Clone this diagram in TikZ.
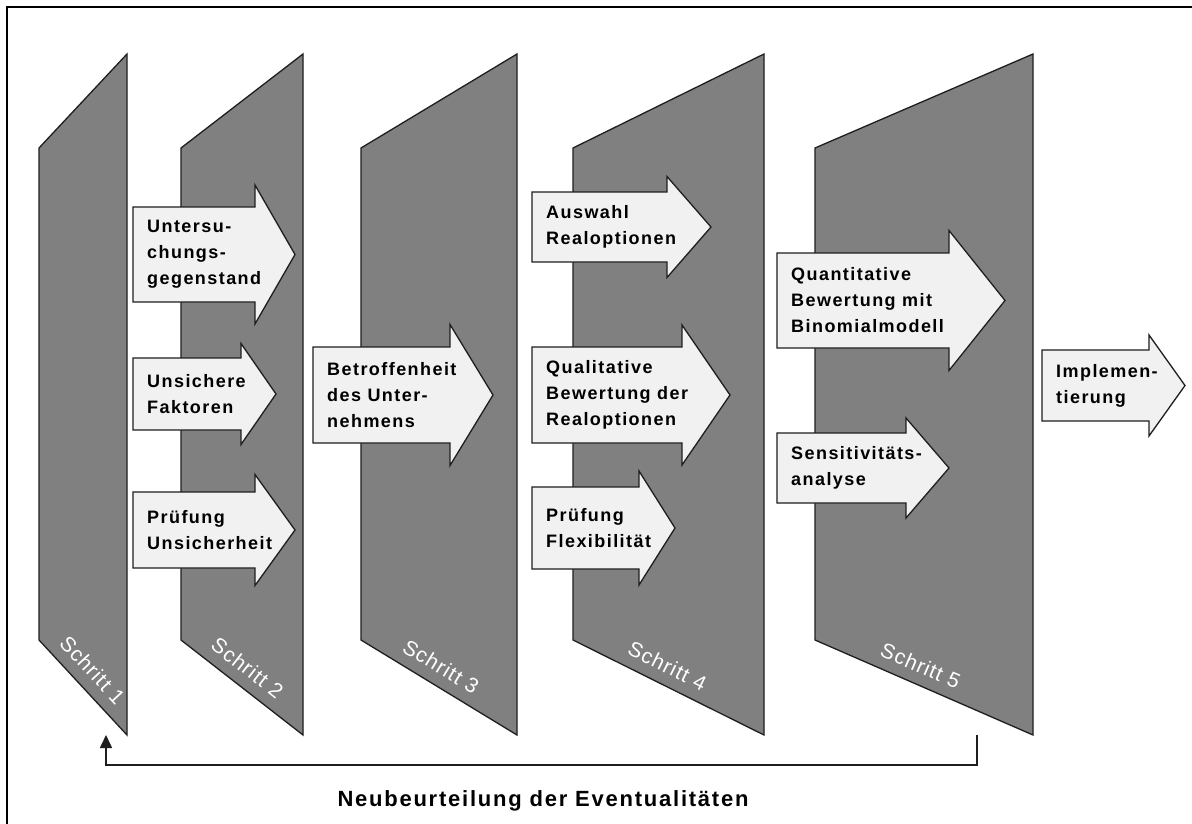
\documentclass[tikz,border=0pt]{standalone}
\usepackage{fontspec}
\setmainfont{Liberation Sans}
\newfontfamily\boxfont{Liberation Sans}[LetterSpace=8]
\newfontfamily\stepfont{Liberation Sans}[LetterSpace=5]
\usetikzlibrary{arrows.meta}

\definecolor{panelgray}{RGB}{128,128,128}
\definecolor{arrowfill}{RGB}{240,241,240}
\definecolor{edgecol}{RGB}{30,30,30}

% one slanted step panel: name, left x, right x
\newcommand\steppanel[3]{%
  \coordinate (#1-tl) at (#2,148);
  \coordinate (#1-tr) at (#3,54);
  \coordinate (#1-br) at (#3,735);
  \coordinate (#1-bl) at (#2,640);
  \draw[panel] (#1-tl) -- (#1-tr) -- (#1-br) -- (#1-bl) -- cycle;
}

% block arrow with text: name, body left x, centre y, half body height,
% head back x, half head height, tip x, text
\newcommand\blockarrow[8]{%
  \draw[procarrow] (#2,{#3-#4}) -- (#5,{#3-#4}) -- (#5,{#3-#6}) -- (#7,#3)
    -- (#5,{#3+#6}) -- (#5,{#3+#4}) -- (#2,{#3+#4}) -- cycle;
  \node[arrowtext] (#1) at ({#2+14},#3) {#8};
}

\begin{document}
\begin{tikzpicture}[x=1pt,y=-1pt,
  panel/.style={fill=panelgray, draw=edgecol, line width=1.3pt, line join=miter},
  procarrow/.style={fill=arrowfill, draw=edgecol, line width=1.3pt, line join=miter},
  arrowtext/.style={anchor=west, align=left, inner sep=0pt, text=black,
    font=\boxfont\bfseries\fontsize{18}{26}\selectfont},
  steplabel/.style={font=\stepfont\fontsize{21}{24}\selectfont, text=white,
    sloped, above, pos=0.45, inner sep=11pt},
  feedback/.style={draw=edgecol, line width=1.6pt, -{Triangle[length=13pt,width=12pt]}},
  titletext/.style={font=\boxfont\bfseries\fontsize{22}{26}\selectfont, text=black},
  frameline/.style={draw=black, line width=2.2pt}]

\useasboundingbox (0,0) rectangle (1192,823);
\fill[white] (0,0) rectangle (1192,823);

% outer frame
\draw[frameline] (7,840) -- (7,7) -- (1210,7);

% step panels
\steppanel{p1}{39}{127}
\steppanel{p2}{181}{303}
\steppanel{p3}{361}{517}
\steppanel{p4}{573}{764}
\steppanel{p5}{815}{1033}

\path (p1-bl) -- (p1-br) node[steplabel] (s1) {Schritt 1};
\path (p2-bl) -- (p2-br) node[steplabel] (s2) {Schritt 2};
\path (p3-bl) -- (p3-br) node[steplabel] (s3) {Schritt 3};
\path (p4-bl) -- (p4-br) node[steplabel] (s4) {Schritt 4};
\path (p5-bl) -- (p5-br) node[steplabel] (s5) {Schritt 5};

% activities of each step
\blockarrow{a1}{133}{254.5}{47.5}{255}{69.5}{295}{Untersu-\\chungs-\\gegenstand}
\blockarrow{a2}{133}{394}{36}{241}{50.5}{276}{Unsichere\\Faktoren}
\blockarrow{a3}{133}{530}{38}{255}{55.5}{295}{Prüfung\\Unsicherheit}
\blockarrow{a4}{313}{395}{48}{450}{70.5}{493}{Betroffenheit\\des Unter-\\nehmens}
\blockarrow{a5}{532}{227}{35}{667}{50.5}{711}{Auswahl\\Realoptionen}
\blockarrow{a6}{532}{395}{48}{682}{70}{730}{Qualitative\\Bewertung der\\Realoptionen}
\blockarrow{a7}{532}{528}{41}{639}{57}{675}{Prüfung\\Flexibilität}
\blockarrow{a8}{777}{300.5}{47.5}{949}{70}{1005}{Quantitative\\Bewertung mit\\Binomialmodell}
\blockarrow{a9}{777}{468}{35}{906}{50}{949}{Sensitivitäts-\\analyse}
\blockarrow{a10}{1042}{385.5}{35.5}{1149}{50.5}{1185}{Implemen-\\tierung}

% feedback loop back to the first step
\coordinate (fb-from) at (977,735);
\coordinate (fb-to) at (106,735);
\draw[feedback] (fb-from) -- ++(0,30) -| (fb-to);
\node[titletext] (loop) at (543,801) {Neubeurteilung der Eventualitäten};

\end{tikzpicture}
\end{document}
